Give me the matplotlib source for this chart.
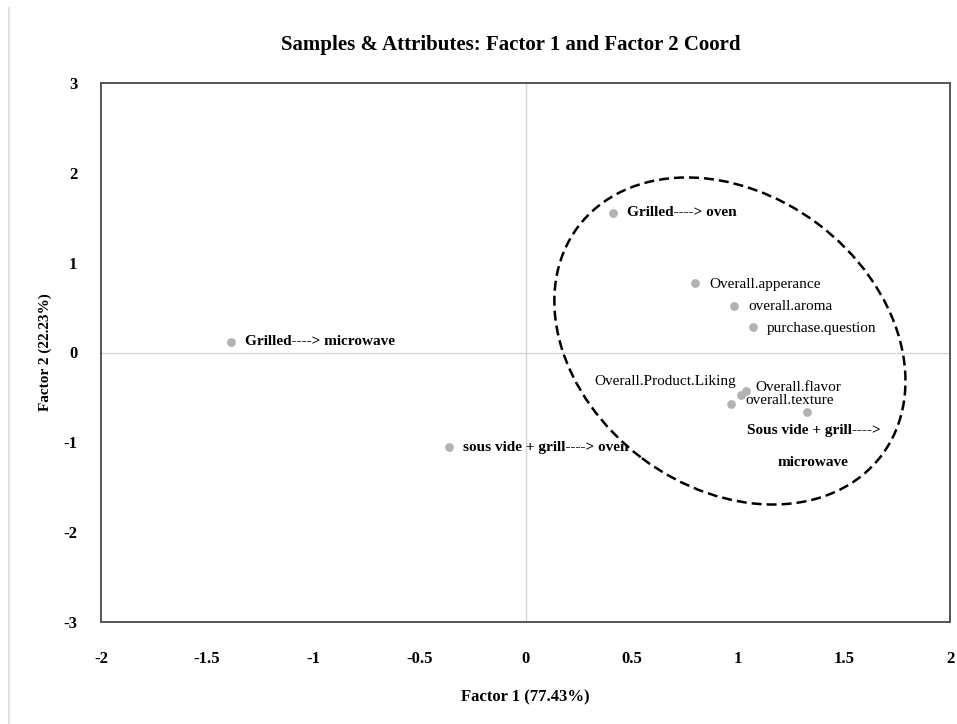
import matplotlib
matplotlib.use("Agg")
import matplotlib.pyplot as plt
from matplotlib.patches import Ellipse
from matplotlib.lines import Line2D
from matplotlib.transforms import ScaledTranslation

plt.rcParams['font.family'] = ['Liberation Serif', 'DejaVu Serif']
plt.rcParams['axes.unicode_minus'] = False

# factor coordinates of samples (bold labels) and attributes
samples = ['Grilled----> microwave', 'Grilled----> oven',
           'sous vide + grill----> oven', 'Sous vide + grill---->\nmicrowave']
sample_f1 = [-1.388, 0.411, -0.360, 1.328]
sample_f2 = [0.117, 1.556, -1.052, -0.659]

attributes = ['Overall.apperance', 'overall.aroma', 'purchase.question',
              'Overall.flavor', 'Overall.Product.Liking', 'overall.texture']
attr_f1 = [0.799, 0.984, 1.070, 1.037, 1.017, 0.968]
attr_f2 = [0.770, 0.518, 0.280, -0.429, -0.473, -0.573]

xticks = [-2, -1.5, -1, -0.5, 0, 0.5, 1, 1.5, 2]
yticks = [-3, -2, -1, 0, 1, 2, 3]

# label offsets in pixels (dx, dy, ha)
sample_off = [(14, 0, 'left'), (14, 0, 'left'), (14, 0, 'left'), (6, -35, 'center')]
attr_off = [(14, -1, 'left'), (14, -1, 'left'), (14, -1, 'left'),
            (10, 4, 'left'), (-5, 13, 'right'), (14, 3, 'left')]

fig = plt.figure(figsize=(9.57, 7.24), dpi=100)
ax = fig.add_axes([101/957, 1 - 622/724, 849/957, 539/724])

ax.set_xlim(-2, 2)
ax.set_ylim(-3, 3)
ax.axhline(0, color='#d4d4d4', lw=1, zorder=1)
ax.axvline(0, color='#d4d4d4', lw=1, zorder=1)

ax.scatter(sample_f1, sample_f2, s=40, color='#b2b2b2', zorder=3, linewidths=0)
ax.scatter(attr_f1, attr_f2, s=40, color='#b2b2b2', zorder=3, linewidths=0)

for name, x, y, (dx, dy, ha) in zip(samples, sample_f1, sample_f2, sample_off):
    ax.annotate(name, (x, y), xytext=(dx, dy), textcoords='offset pixels',
                ha=ha, va='center', fontsize=11, fontweight='bold',
                linespacing=2.9, multialignment='center', zorder=4)
for name, x, y, (dx, dy, ha) in zip(attributes, attr_f1, attr_f2, attr_off):
    ax.annotate(name, (x, y), xytext=(dx, dy), textcoords='offset pixels',
                ha=ha, va='center', fontsize=11, zorder=4)

# dashed ellipse around the right-hand group, sized in inches
ell = Ellipse((0, 0), 3.80, 2.93, angle=-36.9, fill=False, ls=(0, (4, 2)),
              lw=1.8, color='black',
              transform=fig.dpi_scale_trans + ScaledTranslation(0.963, 0.128, ax.transData))
ax.add_patch(ell)

ax.set_xticks(xticks)
ax.set_xticklabels(['-2', '-1.5', '-1', '-0.5', '0', '0.5', '1', '1.5', '2'])
ax.set_yticks(yticks)
ax.tick_params(length=0, labelsize=12)
ax.tick_params(axis='x', pad=21)
ax.tick_params(axis='y', pad=17)
for lab in ax.get_xticklabels() + ax.get_yticklabels():
    lab.set_fontweight('bold')

for sp in ax.spines.values():
    sp.set_color('#555555')
    sp.set_linewidth(1.4)

fig.text(511/957, 1 - 45/724, 'Samples & Attributes: Factor 1 and Factor 2 Coord',
         ha='center', va='center', fontsize=15, fontweight='bold')
fig.text(525/957, 1 - 697/724, 'Factor 1 (77.43%)', ha='center', va='center',
         fontsize=12, fontweight='bold')
fig.text(45/957, 1 - 352/724, 'Factor 2 (22.23%)', ha='center', va='center',
         rotation=90, fontsize=11, fontweight='bold')

fig.add_artist(Line2D([9/957, 9/957], [0, 1 - 8/724], color='#dcdcdc', lw=1.2))

fig.savefig('out.png', dpi=100)
